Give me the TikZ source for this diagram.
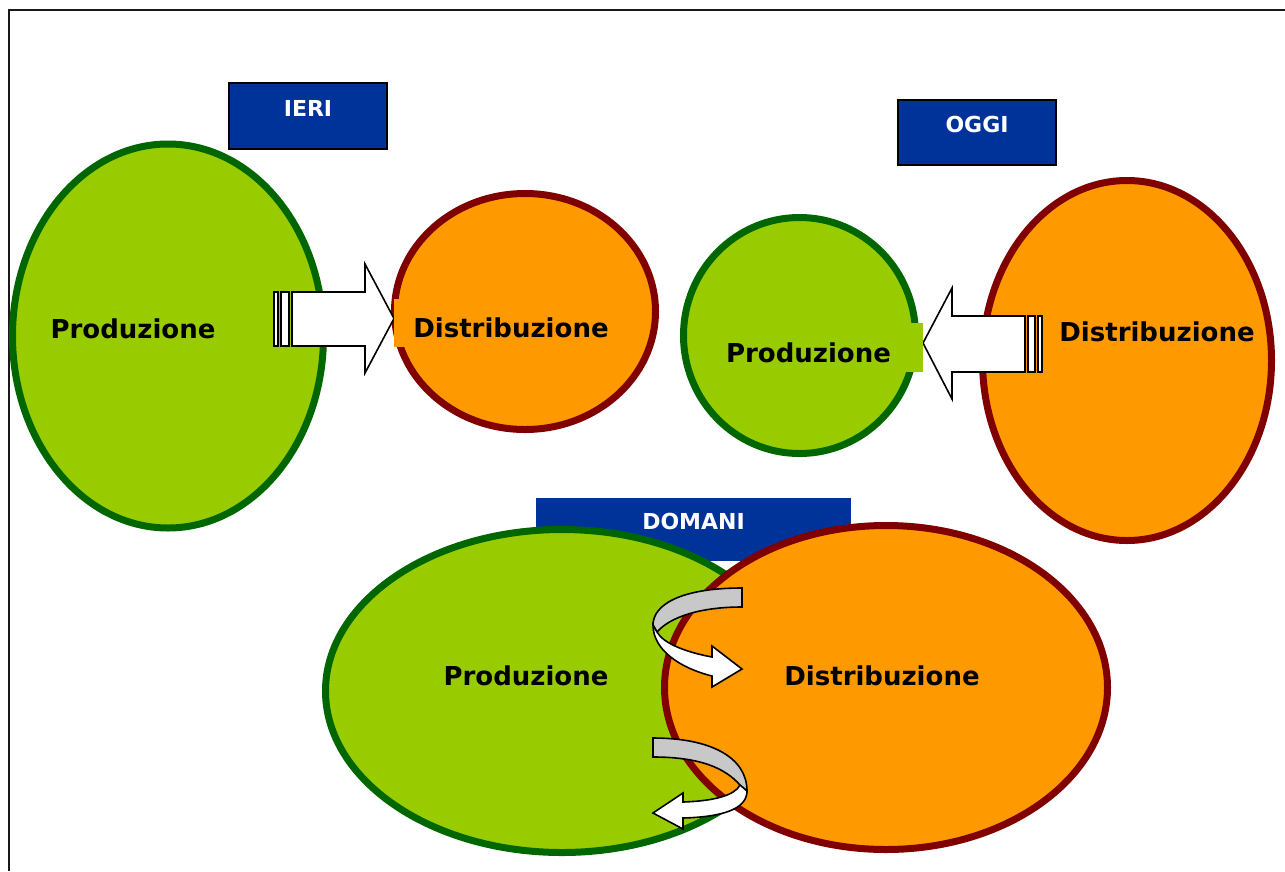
\documentclass[tikz,border=0pt]{standalone}
\usepackage{fontspec}
\setmainfont{DejaVu Sans}
\usetikzlibrary{shapes, positioning}

\definecolor{prodfill}{HTML}{99CC00}
\definecolor{prodline}{HTML}{006600}
\definecolor{distfill}{HTML}{FF9900}
\definecolor{distline}{HTML}{800000}
\definecolor{headblue}{HTML}{003399}
\definecolor{backgrey}{HTML}{C8C8C8}

\begin{document}
\begin{tikzpicture}[
  x=1pt, y=-1pt,
  frameline/.style={draw=black!90, line width=2pt},
  headbox/.style={rectangle, fill=headblue, text=white, inner sep=0pt, font=\fontsize{22}{26}\selectfont\bfseries, text height=12pt, text depth=12pt},
  prodell/.style={ellipse, draw=prodline, fill=prodfill, line width=7pt, inner sep=0pt},
  distell/.style={ellipse, draw=distline, fill=distfill, line width=7pt, inner sep=0pt},
  prodtxt/.style={rectangle, fill=prodfill, inner sep=0pt, font=\fontsize{26}{30}\selectfont\bfseries, text height=29pt, text depth=0pt},
  disttxt/.style={rectangle, fill=distfill, inner sep=0pt, font=\fontsize{26}{30}\selectfont\bfseries, text height=29pt, text depth=0pt},
  blockarrow/.style={draw=black, fill=white, line width=1.6pt, line join=miter},
  twistfront/.style={draw=black, fill=white, line width=1.6pt, line join=miter},
  twistback/.style={draw=black, fill=backgrey, line width=1.6pt}
]
\useasboundingbox (0,0) rectangle (1285,871);

% Frame
\draw[frameline] (9,871) -- (9,10) -- (1285,10);

% IERI
\node[headbox, draw=black, line width=1.2pt, minimum width=158, minimum height=66] (ieri) at (308,116) {IERI};
\node[prodell, minimum width=311, minimum height=384] (prodA) at (168,336) {};
\node[distell, minimum width=261, minimum height=236] (distA) at (525,311.5) {};

\draw[blockarrow] (274,292) rectangle (278,346);
\draw[blockarrow] (281,292) rectangle (289,346);
\draw[blockarrow] (292,292) -- (365,292) -- (365,264) -- (394,318.5) -- (365,373) -- (365,346) -- (292,346) -- cycle;

\node[prodtxt] (prodAtxt) at (133,324) {Produzione};
\node[disttxt, minimum width=234, minimum height=48] (distAtxt) at (511,323) {Distribuzione};

% OGGI
\node[headbox, draw=black, line width=1.2pt, minimum width=158, minimum height=65] (oggi) at (977,132.5) {OGGI};
\node[prodell, minimum width=232, minimum height=236] (prodB) at (799.5,335.5) {};
\node[distell, minimum width=289, minimum height=360] (distB) at (1127,360.5) {};

\draw[blockarrow] (1028,316) rectangle (1035,372);
\draw[blockarrow] (1038,316) rectangle (1042,372);
\draw[blockarrow] (1025,316) -- (952,316) -- (952,288) -- (923,343) -- (952,399) -- (952,372) -- (1025,372) -- cycle;

\node[prodtxt, minimum width=229, minimum height=49] (prodBtxt) at (808.5,347.5) {Produzione};
\node[disttxt] (distBtxt) at (1157,327) {Distribuzione};

% DOMANI
\node[headbox, minimum width=315, minimum height=63] (domani) at (693.5,529.2) {DOMANI};
\node[prodell, minimum width=473, minimum height=323] (prodC) at (562,691) {};
\node[distell, minimum width=443, minimum height=324] (distC) at (886,687.5) {};

% upper twist: towards Distribuzione
\draw[twistback] (742,588) .. controls (680,588) and (653,605) .. (653,625)
  -- (657,632) .. controls (670,617) and (700,607) .. (742,607) -- cycle;
\draw[twistfront] (653,625) .. controls (653,650) and (680,668) .. (712,676)
  -- (712,687) -- (742,669) -- (712,646) -- (712,657)
  .. controls (685,652) and (663,643) .. (657,632) -- cycle;

% lower twist: back to Produzione
\draw[twistback] (653,738) .. controls (712,738) and (747,758) .. (747,791)
  -- (740,785) .. controls (725,768) and (700,757) .. (653,757) -- cycle;
\draw[twistfront] (747,791) .. controls (747,810) and (720,817) .. (683,818)
  -- (683,829) -- (653,813) -- (683,793) -- (683,802)
  .. controls (715,801) and (735,795) .. (740,785) -- cycle;

\node[prodtxt] (prodCtxt) at (526,671) {Produzione};
\node[disttxt] (distCtxt) at (882,671) {Distribuzione};
\end{tikzpicture}
\end{document}
